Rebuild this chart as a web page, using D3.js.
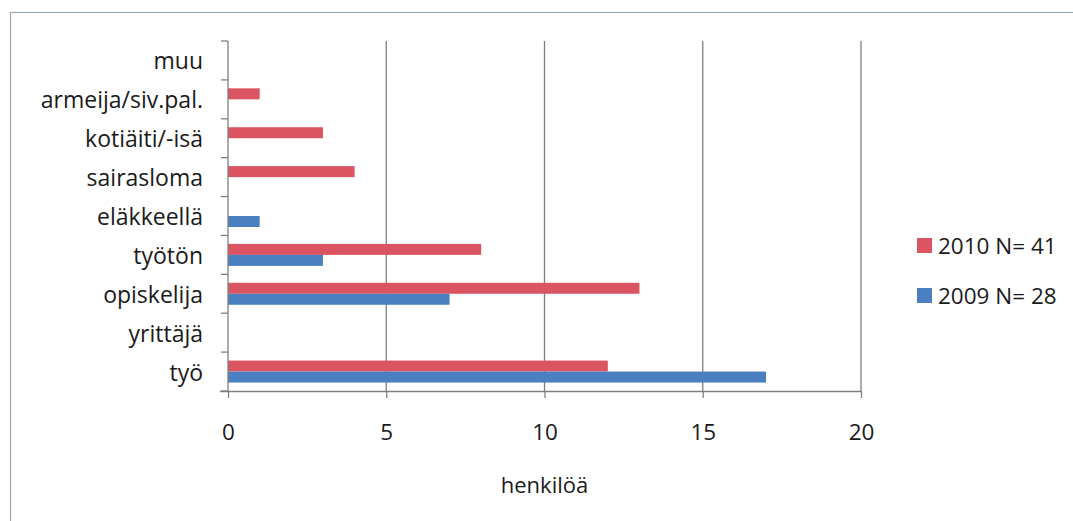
<!DOCTYPE html>
<html>
<head>
<meta charset="utf-8">
<script src="https://cdn.jsdelivr.net/npm/d3@7"></script>
<style>
  html, body { margin: 0; padding: 0; background: #fff; }
  svg { display: block; }
  text { font-family: "Open Sans", "Noto Sans", sans-serif; fill: #1a1a1a; }
</style>
</head>
<body>
<svg id="chart" width="1073" height="521"></svg>
<script>
const categories = ["muu", "armeija/siv.pal.", "kotiäiti/-isä", "sairasloma", "eläkkeellä", "työtön", "opiskelija", "yrittäjä", "työ"];
const values2010 = [0, 1, 3, 4, 0, 8, 13, 0, 12];
const values2009 = [0, 0, 0, 0, 1, 3, 7, 0, 17];
const seriesNames = ["2010 N= 41", "2009 N= 28"];
const seriesColors = ["#da5461", "#4a80c2"];
const xTicks = [0, 5, 10, 15, 20];
const xTitle = "henkilöä";

const svg = d3.select("#chart");
const W = 1073, H = 521;

// outer frame
svg.append("rect")
  .attr("x", 10.5).attr("y", 12.5)
  .attr("width", W + 20).attr("height", H + 20)
  .attr("fill", "none").attr("stroke", "#9aa6b2").attr("stroke-width", 1.2);

const plot = { left: 228, right: 861, top: 41, bottom: 391 };

const x = d3.scaleLinear().domain([0, 20]).range([plot.left, plot.right]);
const y = d3.scaleBand().domain(categories).range([plot.top, plot.bottom]).paddingInner(0).paddingOuter(0);

// gridlines
svg.append("g").selectAll("line")
  .data(xTicks.filter(d => d > 0))
  .join("line")
  .attr("x1", d => x(d)).attr("x2", d => x(d))
  .attr("y1", plot.top).attr("y2", plot.bottom)
  .attr("stroke", "#7f7f7f").attr("stroke-width", 1.3);

// bars
const seriesData = [values2010, values2009];
const groupH = 22;
const offset = (y.bandwidth() - groupH) / 2;
seriesData.forEach((vals, si) => {
  svg.append("g").selectAll("rect")
    .data(categories.map((c, i) => ({ c, v: vals[i] })))
    .join("rect")
    .attr("x", x(0))
    .attr("y", d => y(d.c) + offset + si * groupH / 2)
    .attr("width", d => x(d.v) - x(0))
    .attr("height", groupH / 2)
    .attr("fill", seriesColors[si]);
});

// y axis
const yAxisG = svg.append("g");
yAxisG.append("line")
  .attr("x1", plot.left).attr("x2", plot.left)
  .attr("y1", plot.top).attr("y2", plot.bottom)
  .attr("stroke", "#7f7f7f").attr("stroke-width", 1.3);
const boundaries = categories.map(c => y(c)).concat([plot.bottom]);
yAxisG.selectAll("line.tick")
  .data(boundaries)
  .join("line").attr("class", "tick")
  .attr("x1", plot.left - 7).attr("x2", plot.left)
  .attr("y1", d => d).attr("y2", d => d)
  .attr("stroke", "#7f7f7f").attr("stroke-width", 1.3);
yAxisG.selectAll("text")
  .data(categories)
  .join("text")
  .attr("x", 203)
  .attr("y", d => y(d) + y.bandwidth() / 2)
  .attr("text-anchor", "end")
  .attr("dominant-baseline", "central")
  .attr("font-size", "23px")
  .text(d => d);

// x axis
const xAxisG = svg.append("g").attr("transform", `translate(0,${plot.bottom})`);
const xAxis = d3.axisBottom(x).tickValues(xTicks).tickSize(7).tickPadding(26).tickSizeOuter(0);
xAxisG.call(xAxis);
xAxisG.select(".domain").attr("stroke", "#7f7f7f").attr("stroke-width", 1.3)
  .attr("d", `M${plot.left - 8},0.5H${plot.right}`);
xAxisG.selectAll(".tick line").attr("stroke", "#7f7f7f").attr("stroke-width", 1.3);
xAxisG.selectAll(".tick text")
  .attr("font-size", "22.5px")
  .attr("font-family", "'Open Sans', sans-serif")
  .attr("fill", "#1a1a1a");

svg.append("text")
  .attr("x", (plot.left + plot.right) / 2)
  .attr("y", 484)
  .attr("text-anchor", "middle")
  .attr("dominant-baseline", "central")
  .attr("font-size", "22px")
  .text(xTitle);

// legend
const legend = svg.append("g");
seriesNames.forEach((name, i) => {
  const cy = 245.5 + i * 50;
  legend.append("rect")
    .attr("x", 917).attr("y", cy - 7.5)
    .attr("width", 15).attr("height", 15)
    .attr("fill", seriesColors[i]);
  legend.append("text")
    .attr("x", 938).attr("y", cy)
    .attr("dominant-baseline", "central")
    .attr("font-size", "22.5px")
    .text(name);
});
</script>
</body>
</html>
